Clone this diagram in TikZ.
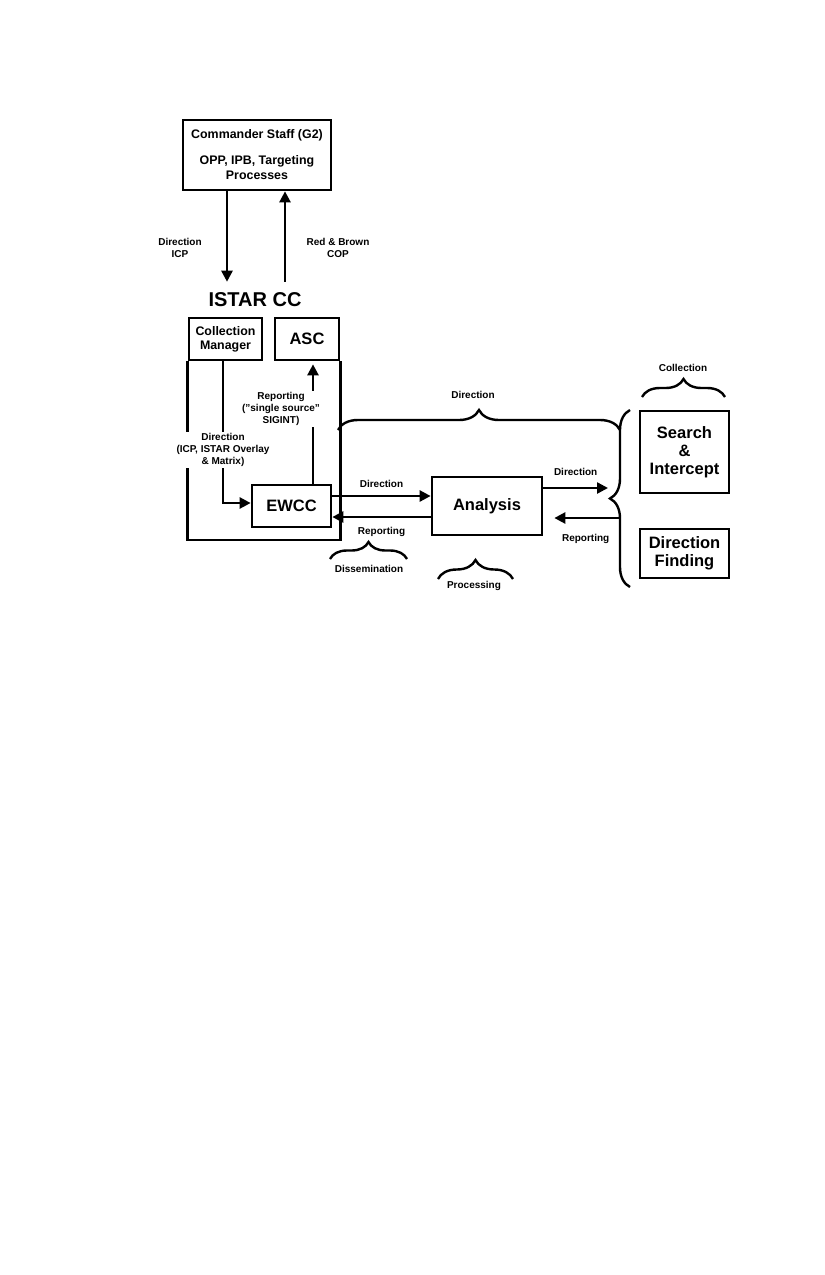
\documentclass[tikz,border=0pt]{standalone}
\usepackage{fontspec}
\setmainfont{Liberation Sans}
\usetikzlibrary{arrows.meta, positioning, calc, decorations.pathreplacing}

\begin{document}
\begin{tikzpicture}[
    x=1pt, y=-1pt,
    box/.style={rectangle, draw, line width=2.7pt, inner sep=0pt, align=center, font=\bfseries\fontsize{16.5}{18}\selectfont},
    plain/.style={font=\bfseries\fontsize{12.4}{15}\selectfont},
    title/.style={inner xsep=0pt, inner ysep=11pt, font=\bfseries\fontsize{20}{22}\selectfont},
    arrow/.style={-{Triangle[length=11pt, width=11pt]}, line width=2.5pt},
    frame/.style={line width=2.7pt},
    note/.style={font=\bfseries\fontsize{10}{12}\selectfont, align=center, inner sep=1pt},
    bracegrp/.style={decorate, decoration={brace, amplitude=#1}, line width=2.4pt}
]
    \useasboundingbox (0, 0) rectangle (825, 1275);

    % Command level
    \node[box, plain, minimum width=148pt, minimum height=70pt] (cmd) at (257, 155) {Commander Staff (G2)\\[11pt]OPP, IPB, Targeting\\Processes};
    \node[title] (istar) at (255, 300) {ISTAR CC};

    % ISTAR CC cell
    \node[box, plain, font=\bfseries\fontsize{12.4}{14}\selectfont, minimum width=73pt, minimum height=42pt] (cm) at (225.5, 339) {Collection\\Manager};
    \node[box, minimum width=64pt, minimum height=42pt] (asc) at (307, 339) {ASC};
    \node[box, minimum width=79pt, minimum height=42pt] (ewcc) at (291.5, 506) {EWCC};
    \coordinate (framebot) at (264, 540);
    \draw[frame] (cm.south west) |- (framebot) -| (asc.south east);

    % Processing and collection
    \node[box, minimum width=110pt, minimum height=58pt] (analysis) at (487, 506) {Analysis};
    \node[box, minimum width=89pt, minimum height=82pt] (search) at (684.5, 452) {Search\\\&\\Intercept};
    \node[box, minimum width=89pt, minimum height=49pt] (df) at (684.5, 553.5) {Direction\\Finding};

    \coordinate (colltip) at (608, 488);
    \coordinate (collback) at (620, 518);

    % Arrows
    \draw[arrow] ([xshift=-30pt]cmd.south) -- ([xshift=-28pt]istar.north);
    \draw[arrow] ([xshift=30pt]istar.north) -- ([xshift=28pt]cmd.south);
    \node[note] (dirup) at (180, 247.5) {Direction\\ICP};
    \node[note] (cop) at (338, 247.5) {Red \& Brown\\COP};

    \draw[arrow] ([xshift=-2.5pt]cm.south) |- ([yshift=3pt]ewcc.west);
    \node[note, fill=white] (dirovl) at (223, 450) {Direction\\(ICP, ISTAR Overlay\\\& Matrix)};

    \draw[arrow, shorten >=3pt] ([xshift=21.5pt]ewcc.north) -- ([xshift=6pt]asc.south);
    \node[note, fill=white] (sigint) at (281, 409) {Reporting\\("single source"\\SIGINT)};

    \draw[arrow] ([yshift=10pt]ewcc.east) -- node[note, above=6pt] {Direction} ([yshift=10pt]analysis.west);
    \draw[arrow] ([yshift=-11pt]analysis.west) -- node[note, below=8pt] {Reporting} ([yshift=-11pt]ewcc.east);

    \draw[arrow] ([yshift=18pt]analysis.east) -- node[note, above=10pt] {Direction} (colltip);
    \draw[arrow, shorten >=11pt] (collback) -- node[note, below=14pt, xshift=4pt] {Reporting} (analysis.east |- collback);

    % Braces
    \draw[bracegrp=20pt] (338, 430) -- (620, 430);
    \node[note] (dirtop) at (473, 395) {Direction};
    \draw[bracegrp=20pt] (630, 587) -- (630, 410);
    \draw[bracegrp=18pt] (642, 397) -- (725, 397);
    \node[note] (collect) at (683, 368) {Collection};
    \draw[bracegrp=17pt] (330, 559) -- (407, 559);
    \node[note] (dissem) at (369, 569) {Dissemination};
    \draw[bracegrp=19pt] (438, 579) -- (513, 579);
    \node[note] (proc) at (474, 586) {Processing};

\end{tikzpicture}
\end{document}
